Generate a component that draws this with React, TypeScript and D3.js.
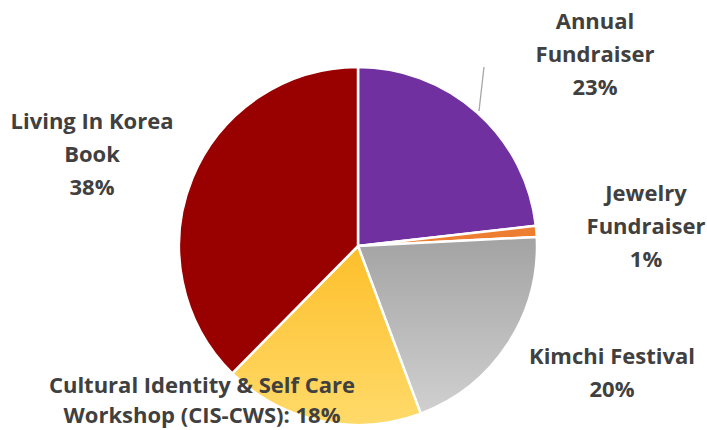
import React from "react";
import * as d3 from "d3";

const W = 707;
const H = 430;

// slices clockwise from 12 o'clock
const categories = ["Annual Fundraiser", "Jewelry Fundraiser", "Kimchi Festival", "Cultural Identity & Self Care Workshop (CIS-CWS)", "Living In Korea Book"];
const shares = [23.2, 1.0, 20.1, 18.1, 37.6];
const labelLines = [
  ["Annual", "Fundraiser", "23%"],
  ["Jewelry", "Fundraiser", "1%"],
  ["Kimchi Festival", "20%"],
  ["Cultural Identity & Self Care", "Workshop (CIS-CWS): 18%"],
  ["Living In Korea", "Book", "38%"],
];
const labelPos = [
  [595, 29],
  [646, 201],
  [612, 364],
  [202, 393],
  [92, 129],
];

const fills = ["#7030a0", "#ed7d31", "url(#gGray)", "url(#gYellow)", "#990000"];

export default function App() {
  const cx = 358;
  const cy = 246;
  const r = 179;

  const pie = d3.pie<number>().sort(null).value((d) => d);
  const arcs = pie(shares);
  const arc = d3.arc<d3.PieArcDatum<number>>().innerRadius(0).outerRadius(r);

  return (
    <svg width={W} height={H} style={{ position: "absolute", left: 0, top: 0 }}>
      <defs>
        <linearGradient id="gGray" x1="0" y1="0" x2="0" y2="1">
          <stop offset="0%" stopColor="#a3a3a3" />
          <stop offset="100%" stopColor="#d0d0d0" />
        </linearGradient>
        <linearGradient id="gYellow" x1="0" y1="0" x2="0" y2="1">
          <stop offset="0%" stopColor="#fdbf2a" />
          <stop offset="100%" stopColor="#ffda6a" />
        </linearGradient>
      </defs>
      <rect width={W} height={H} fill="#ffffff" />
      <g transform={`translate(${cx},${cy})`}>
        {arcs.map((a, i) => (
          <path key={categories[i]} d={arc(a) || ""} fill={fills[i]} stroke="#ffffff" strokeWidth={2.5} strokeLinejoin="round" />
        ))}
      </g>
      <line x1={484} y1={67} x2={479} y2={111} stroke="#a6a6a6" strokeWidth={1.3} />
      {labelLines.map((lines, i) => (
        <text
          key={i}
          x={labelPos[i][0]}
          y={labelPos[i][1]}
          textAnchor="middle"
          fontFamily="'Open Sans', sans-serif"
          fontWeight="bold"
          fontSize={22}
          fill="#404040"
        >
          {lines.map((t, j) => (
            <tspan key={j} x={labelPos[i][0]} dy={j === 0 ? 0 : i === 3 ? 30 : 33}>
              {t}
            </tspan>
          ))}
        </text>
      ))}
    </svg>
  );
}
